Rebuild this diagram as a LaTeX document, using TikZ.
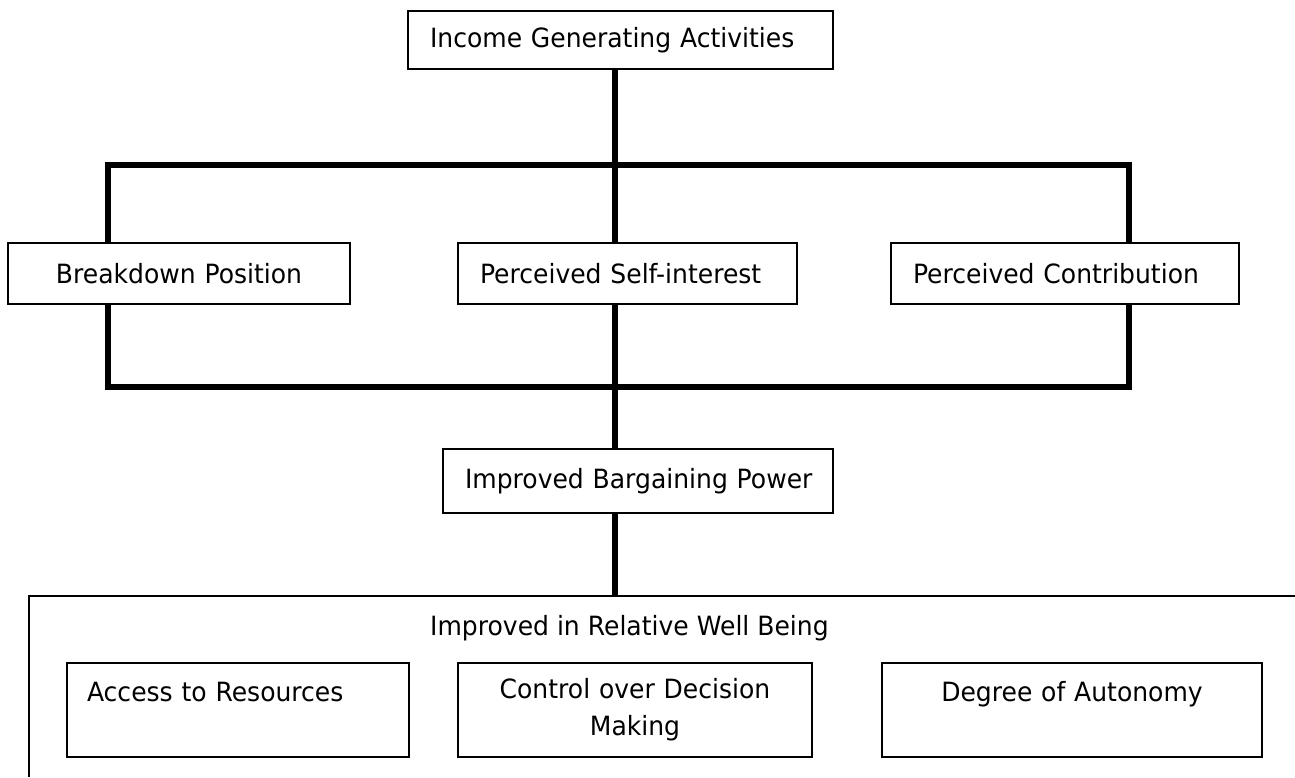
\documentclass[tikz,border=0pt]{standalone}
\usepackage{fontspec}
\setmainfont[FakeStretch=0.945]{DejaVu Sans}
\usetikzlibrary{backgrounds}
\tikzset{
  bx/.style={draw, fill=white, line width=1.5pt, inner xsep=22pt, inner ysep=0pt,
    font=\fontsize{26.5pt}{37pt}\selectfont, align=left},
  bxc/.style={bx, align=center},
  thickline/.style={line width=6pt, line join=miter, line cap=rect},
  thinline/.style={line width=2pt},
}
\begin{document}
\begin{tikzpicture}[x=1pt, y=-1pt]
\useasboundingbox (0,0) rectangle (1295,777);
% nodes
\node[bx, text width=381pt, minimum height=58pt] (inc) at (620.5,40) {Income Generating Activities};
\node[bxc, text width=298pt, minimum height=61pt] (bd) at (179,273.5) {Breakdown Position};
\node[bx, text width=295pt, minimum height=61pt] (psi) at (627.5,273.5) {Perceived Self-interest};
\node[bx, text width=304pt, minimum height=61pt] (pc) at (1065,273.5) {Perceived Contribution};
\node[bx, text width=346pt, minimum height=64pt] (ibp) at (638,481) {\mbox{Improved Bargaining Power}};
% outer well-being box
\coordinate (otr) at (1295,596);
\coordinate (otl) at (29,596);
\coordinate (obl) at (29,777);
\coordinate (top) at (615,596);
\coordinate (spine) at (615,0);
\node[font=\fontsize{26.5pt}{37pt}\selectfont, anchor=base west, inner sep=0pt] (wb) at (430,635) {Improved in Relative Well Being};
\node[bx, inner xsep=20pt, text width=302pt, minimum height=94pt] (ar) at (238,710) {Access to Resources\\\mbox{}};
\node[bxc, text width=310pt, minimum height=94pt] (cdm) at (635,710) {Control over Decision\\Making};
\node[bxc, text width=336pt, minimum height=94pt] (da) at (1072,710) {Degree of Autonomy\\\mbox{}};
\begin{scope}[on background layer]
  \coordinate (tl) at (108,165);
  \coordinate (br) at (1129,387);
  \draw[thickline] (tl) rectangle (br);
  \draw[thickline, line cap=butt] (inc.south -| spine) -- (ibp.north -| spine);
  \draw[thickline, line cap=butt] (ibp.south -| spine) -- (top);
\end{scope}
\draw[thinline] (otr) -- (otl) -- (obl);
\end{tikzpicture}
\end{document}
